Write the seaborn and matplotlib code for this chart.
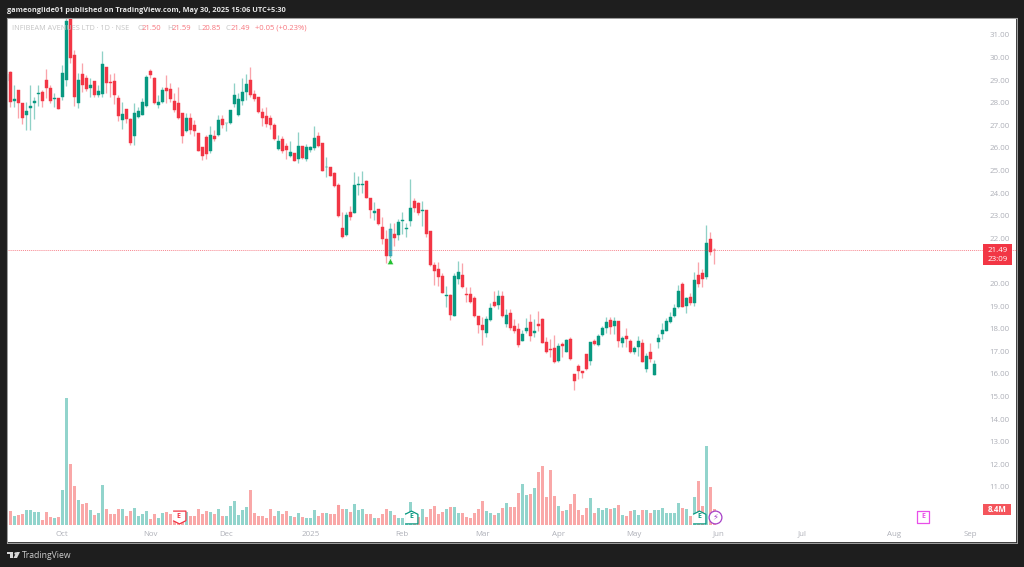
import numpy as np
import pandas as pd
import matplotlib
matplotlib.use("Agg")
import matplotlib.pyplot as plt
from matplotlib.patches import Rectangle, Polygon
import seaborn as sns

opens = [28.98,29.36,28.07,28.57,28.00,27.46,27.77,27.98,28.40,28.49,
         29.01,28.65,28.17,28.21,28.26,29.00,31.80,30.10,27.98,29.27,
         29.10,28.65,28.95,28.36,28.37,29.60,28.94,28.95,28.21,27.24,
         27.71,27.30,26.55,27.39,27.47,27.86,29.39,29.10,27.89,28.04,
         28.65,28.60,28.07,27.98,27.56,26.77,27.33,27.00,26.68,26.06,
         26.50,25.88,26.53,26.56,27.28,27.09,27.09,27.95,27.46,28.09,
         28.48,29.01,28.39,28.27,27.59,27.42,27.33,27.03,25.97,26.38,
         26.09,25.66,25.79,25.51,26.09,25.53,25.91,26.00,26.53,26.24,
         25.14,25.15,24.88,24.35,22.45,22.14,23.18,23.14,24.35,24.38,
         24.53,23.79,23.10,23.29,22.49,21.97,21.22,22.20,22.17,22.78,
         22.43,22.76,23.64,23.58,23.23,23.26,22.31,20.82,20.65,20.34,
         19.47,19.50,18.57,20.22,20.38,19.54,19.54,19.35,18.57,18.17,
         17.80,18.39,19.19,19.04,19.45,18.22,18.69,18.14,17.98,17.48,
         17.91,18.32,17.83,18.22,18.44,17.40,17.09,17.14,16.56,17.33,
         16.99,17.54,16.00,16.33,16.15,16.87,16.59,17.45,17.30,17.74,
         18.04,18.39,18.13,18.33,17.39,17.66,17.48,16.98,17.21,17.39,
         16.24,16.98,15.97,17.42,17.77,17.92,18.30,18.57,18.95,19.99,
         19.01,19.40,19.13,20.37,20.46,20.31,21.99,21.50]
highs = [29.40,29.39,28.79,28.57,28.00,28.05,28.79,28.27,28.79,28.57,
         29.51,28.79,28.45,28.21,29.67,31.90,32.00,30.34,29.30,29.75,
         29.23,29.08,28.95,28.79,30.31,29.60,29.27,29.30,28.35,28.05,
         27.71,27.31,27.98,27.83,28.20,29.23,29.51,29.13,28.35,28.68,
         29.23,28.86,28.42,28.68,27.56,27.53,27.53,27.24,26.68,26.06,
         26.58,26.97,26.80,27.46,27.46,27.12,27.68,28.86,28.42,29.08,
         29.27,29.60,28.57,28.27,27.76,27.80,27.46,27.12,26.58,26.53,
         26.21,26.31,25.79,26.72,26.09,26.18,26.09,26.97,26.72,26.24,
         25.59,25.15,24.95,24.47,23.18,23.18,23.41,24.92,24.76,25.00,
         24.56,23.79,23.63,23.30,22.93,22.37,22.67,22.70,22.84,23.15,
         22.70,24.63,23.77,23.63,23.67,23.26,22.31,20.97,20.97,20.48,
         19.87,19.54,20.46,21.00,20.90,19.84,19.84,19.43,18.57,18.54,
         18.57,19.13,19.69,19.72,19.69,18.86,18.86,18.42,18.25,17.95,
         18.47,18.64,18.42,18.79,18.47,17.63,17.54,17.73,17.36,17.43,
         17.54,17.63,16.00,16.45,16.15,16.87,17.43,17.54,17.77,18.13,
         18.51,18.51,18.54,18.35,17.69,18.02,17.54,17.24,17.66,17.54,
         16.92,17.36,16.62,17.77,18.27,18.47,18.76,19.10,19.94,20.09,
         19.40,19.57,20.49,20.97,20.63,22.60,22.29,21.59]
lows = [28.70,27.83,27.83,27.31,27.06,26.80,26.80,27.30,27.86,27.83,
        28.20,27.98,27.83,27.71,28.12,28.75,29.75,27.86,27.75,28.49,
        28.54,28.27,28.24,28.27,28.27,28.42,28.24,27.95,27.21,26.83,
        27.12,26.12,26.13,27.31,27.45,27.80,29.11,27.95,27.77,28.01,
        27.98,28.05,27.61,27.27,26.24,26.72,26.62,26.53,25.88,25.47,
        25.53,25.79,26.30,26.53,26.87,26.77,27.06,27.80,27.43,27.90,
        28.12,28.27,28.06,27.56,26.97,26.91,26.83,26.35,25.91,25.79,
        25.50,25.59,25.41,25.35,25.50,25.44,25.82,25.91,26.06,24.97,
        24.73,24.78,24.29,22.93,22.00,22.11,22.82,23.11,23.92,24.02,
        23.77,22.89,22.82,22.59,21.75,20.90,21.05,21.66,21.93,22.20,
        22.05,22.55,23.18,23.04,22.55,22.05,20.78,19.94,19.89,19.60,
        18.98,18.39,18.57,20.00,19.79,19.20,19.13,18.54,17.80,17.26,
        17.63,18.36,18.98,18.89,18.51,18.07,17.95,17.80,17.21,17.45,
        17.80,17.48,17.63,17.92,17.36,16.92,16.77,16.48,16.52,16.74,
        16.95,16.62,15.30,15.77,15.80,16.18,16.40,17.29,17.24,17.68,
        17.83,17.77,17.77,17.21,17.18,17.18,16.92,16.89,16.80,16.51,
        16.09,16.55,15.96,17.15,17.54,17.89,18.27,18.54,18.92,18.96,
        18.69,19.06,19.01,19.84,19.84,20.19,21.28,20.85]
closes = [29.27,28.05,28.18,27.98,27.33,27.64,27.86,28.08,28.43,28.09,
          28.65,28.07,28.21,27.74,29.30,31.63,30.00,28.27,29.01,28.77,
          28.60,28.79,28.35,28.54,29.72,28.89,28.88,28.36,27.42,27.49,
          27.27,26.24,27.56,27.65,28.05,29.13,29.22,27.98,28.02,28.57,
          28.54,28.15,27.68,27.34,26.53,27.33,26.80,26.77,25.88,25.65,
          25.73,26.58,26.41,27.24,27.00,27.12,27.68,28.35,28.17,28.46,
          28.83,28.36,28.15,27.59,27.34,27.06,27.00,26.38,26.30,25.85,
          25.91,25.81,25.44,26.09,25.54,26.03,26.04,26.44,26.09,25.00,
          25.17,24.78,24.32,22.99,22.08,23.04,22.93,24.35,24.41,24.41,
          23.80,23.26,23.21,22.62,21.96,21.22,22.40,22.03,22.73,22.79,
          22.48,23.35,23.33,23.11,23.26,22.20,20.82,20.54,20.31,19.60,
          19.50,18.60,20.34,20.49,19.84,19.51,19.19,18.57,18.16,17.95,
          18.42,18.91,19.01,19.43,18.57,18.61,18.04,17.88,17.26,17.77,
          18.02,17.66,17.88,18.14,17.39,16.99,17.04,16.51,17.24,17.24,
          17.51,16.65,15.68,16.15,16.03,16.21,17.42,17.33,17.66,18.02,
          18.30,18.07,18.33,17.48,17.60,17.54,16.98,17.15,17.48,16.53,
          16.81,16.68,16.45,17.60,17.95,18.33,18.54,18.92,19.66,18.98,
          19.37,19.13,20.16,19.99,20.19,21.81,21.40,21.49]
# volume in millions
volumes = [10.0,7.35,4.7,5.1,6.0,8.05,8.05,7.0,6.65,2.6,
           7.0,4.2,3.7,4.2,18.5,66.7,32.0,20.6,13.3,11.2,
           11.5,8.05,5.25,6.3,21.0,8.4,6.0,6.0,8.4,8.4,
           4.7,7.35,8.75,4.7,5.6,7.35,3.15,6.0,3.85,6.3,
           7.0,6.0,5.25,6.1,5.8,7.0,4.7,4.7,8.4,6.0,
           7.35,6.65,5.6,8.4,4.9,4.9,10.0,12.6,5.25,8.05,
           9.45,18.4,6.1,4.7,4.7,3.85,8.2,4.9,7.5,5.8,
           7.35,4.7,4.2,6.3,4.2,3.5,3.5,7.9,4.7,6.1,
           6.1,5.8,5.8,10.3,8.2,8.2,6.8,11.0,7.9,8.2,
           5.8,5.8,3.85,3.85,5.8,8.6,7.2,5.25,3.85,3.85,
           6.1,12.1,3.5,4.2,8.2,4.2,8.2,10.0,5.8,6.8,
           8.6,9.3,9.6,6.1,6.1,4.2,3.5,6.5,8.6,12.8,
           7.2,6.3,5.25,6.1,8.9,11.7,9.3,9.3,16.8,21.4,
           15.75,16.45,19.25,27.65,31.15,14.7,29.05,15.4,9.8,7.35,
           7.7,10.85,16.45,8.05,5.25,9.1,14.0,6.3,9.1,8.05,
           8.75,8.4,9.1,10.5,5.25,4.55,7.35,8.05,5.25,7.9,
           8.05,6.3,7.7,7.7,8.75,6.3,6.3,6.3,11.55,8.75,
           8.4,4.55,14.7,23.1,10.15,41.5,19.8,8.4]

month_pos = [14, 36, 55, 76, 99, 119, 138, 157, 178, 199, 222, 241]
month_labels = ["Oct", "Nov", "Dec", "2025", "Feb", "Mar", "Apr", "May", "Jun", "Jul", "Aug", "Sep"]
price_ticks = [11, 12, 13, 14, 15, 16, 17, 18, 19, 20, 22, 23, 24, 25, 26, 27, 28, 29, 30, 31]
last_price = 21.49
signal_bar = 96
signal_price = 21.0

GREEN = "#089981"
RED = "#f23645"
FONT = "Open Sans"

df = pd.DataFrame({"open": opens, "high": highs, "low": lows, "close": closes, "volume": volumes})
df["bar"] = df.index
df["dir"] = np.where(df["close"] >= df["open"], "up", "down")
df["color"] = df["dir"].map({"up": GREEN, "down": RED})

sns.set_theme(style="white", font=FONT)
fig = plt.figure(figsize=(10.24, 5.67), dpi=100, facecolor="#1e1e1e")

rect = [7 / 1024, 1 - 543 / 567, 1010 / 1024, 525 / 567]
xlim = (0.175, 252.675)

# volume pane, same box as the candles
ax_vol = fig.add_axes(rect, facecolor="white")
sns.barplot(data=df, x="bar", y="volume", hue="dir", palette={"up": "#92d4cc", "down": "#f9a8a8"},
            native_scale=True, dodge=False, width=0.9, saturation=1, errorbar=None,
            legend=False, ax=ax_vol, edgecolor="none", linewidth=0)
ax_vol.set_xlim(*xlim)
ax_vol.set_ylim(-9.45, 266.2)
ax_vol.set_xlabel("")
ax_vol.set_ylabel("")
ax_vol.set_xticks([])
ax_vol.set_yticks([])

# candles
ax = fig.add_axes(rect, facecolor="none")
ax.vlines(df["bar"], df["low"], df["high"], colors=df["color"], linewidth=0.95, alpha=0.45)
body_colors = df["color"].tolist()
body_colors[signal_bar] = "#63b5e0"
ax.bar(df["bar"], (df["close"] - df["open"]).abs(), bottom=df[["open", "close"]].min(axis=1),
       width=0.8, color=body_colors, edgecolor=df["color"], linewidth=0.3)
ax.axhline(last_price, color=RED, linewidth=0.7, linestyle=(0, (1, 1)), alpha=0.6)
ax.scatter([signal_bar], [signal_price], marker="^", s=22, color="#22c02f", edgecolor="white",
           linewidth=0.4, zorder=5)
ax.set_xlim(*xlim)
ax.set_ylim(8.52, 31.75)
ax.yaxis.tick_right()
ax.set_yticks(price_ticks)
ax.set_yticklabels([f"{p:.2f}" for p in price_ticks])
ax.set_xticks(month_pos)
ax.set_xticklabels(month_labels)
ax.tick_params(axis="y", length=0, pad=-20, labelsize=5.7, labelcolor="#aeb0b8")
ax.tick_params(axis="x", length=0, pad=-9, labelsize=5.7, labelcolor="#aeb0b8")
for spine in ax.spines.values():
    spine.set_color("#a0a0a0")
    spine.set_linewidth(0.7)

# overlay in pixel coords for header, legend, tags, icons
ov = fig.add_axes([0, 0, 1, 1], facecolor="none")
ov.set_xlim(0, 1024)
ov.set_ylim(567, 0)
ov.axis("off")

ov.text(7, 10, "gameonglide01 published on TradingView.com, May 30, 2025 15:06 UTC+5:30",
        color="#e6e6e6", fontsize=5.3, va="center", ha="left", fontweight="bold")

ov.text(12, 28, "INFIBEAM AVENUES LTD · 1D · NSE", color="#c4c4c4", fontsize=5.25, va="center")
for x, s, c in [(137, "O", "#c4c4c4"), (142, "21.50", "#f7767e"), (167, "H", "#c4c4c4"), (172, "21.59", "#f7767e"),
                (197, "L", "#c4c4c4"), (202, "20.85", "#f7767e"), (225, "C", "#c4c4c4"), (231, "21.49", "#f7767e"),
                (255, "+0.05 (+0.23%)", "#f7767e")]:
    ov.text(x, 28, s, color=c, fontsize=5.5, va="center")

ov.add_patch(Rectangle((983, 244), 29, 21, color=RED, lw=0))
ov.text(997.5, 250, "21.49", color="white", fontsize=5.7, ha="center", va="center")
ov.text(997.5, 259.5, "23:09", color="white", fontsize=5.7, ha="center", va="center")
ov.add_patch(Rectangle((983, 504), 28, 11, color="#f4555c", lw=0))
ov.text(997, 509.5, "8.4M", color="white", fontsize=5.7, ha="center", va="center", fontweight="bold")

house_up = [(-1, -1), (1, -1), (1, 0.5), (0, 1), (-1, 0.5)]
house_down = [(-1, 1), (1, 1), (1, -0.5), (0, -1), (-1, -0.5)]
for x, verts, c in [(178.5, house_down, RED), (411, house_up, GREEN), (699, house_up, GREEN)]:
    ov.scatter([x], [516.5], marker=verts, s=85, facecolor="white", edgecolor=c, linewidth=0.9, zorder=6)
    ov.text(x, 516.5, "E", color=c, fontsize=5, ha="center", va="center", zorder=7, fontweight="bold")
ov.scatter([715], [516.5], marker="o", s=85, facecolor="white", edgecolor="#a63fc7", linewidth=0.9, zorder=6)
ov.text(715, 516.5, "⚡", color="#a63fc7", fontsize=6, ha="center", va="center", zorder=7, family="DejaVu Sans")
ov.scatter([923], [516.5], marker="s", s=70, facecolor="white", edgecolor="#e84fe8", linewidth=0.9, zorder=6)
ov.text(923, 516.5, "E", color="#e84fe8", fontsize=5, ha="center", va="center", zorder=7, fontweight="bold")

# TradingView logo
ov.add_patch(Polygon([(7, 552), (13, 552), (13, 558), (10, 558), (10, 554), (7, 554)], color="#d8d8d8", lw=0))
ov.scatter([14.5], [553.3], s=3, color="#d8d8d8", linewidth=0)
ov.add_patch(Polygon([(16.5, 552), (20, 552), (17, 558), (13.5, 558)], color="#d8d8d8", lw=0))
ov.text(22, 555.5, "TradingView", color="#cfcfcf", fontsize=6.2, va="center")

fig.savefig("out.png", dpi=100, facecolor=fig.get_facecolor())
